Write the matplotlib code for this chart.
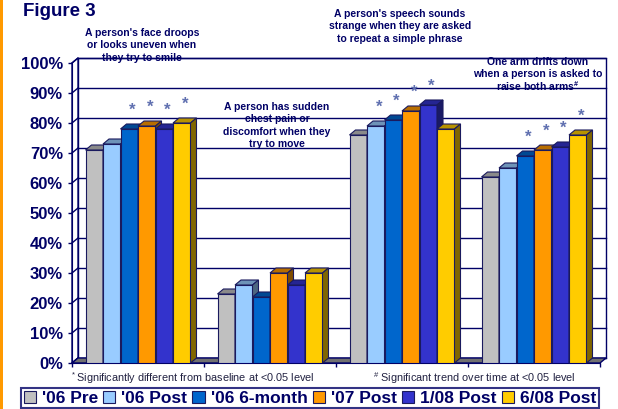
import numpy as np
import matplotlib.pyplot as plt
from matplotlib.patches import Polygon, Rectangle, Patch
import matplotlib.colors as mcolors

plt.rcParams['font.family'] = ['Liberation Sans', 'DejaVu Sans']
plt.rcParams['mathtext.default'] = 'regular'

# Données
categories = ["A person's face droops\nor looks uneven when\nthey try to smile",
              "A person has sudden\nchest pain or\ndiscomfort when they\ntry to move",
              "A person's speech sounds\nstrange when they are asked\nto repeat a simple phrase",
              "One arm drifts down\nwhen a person is asked to\nraise both arms"]
trend = [False, False, False, True]   # # = tendance significative
series = ["'06 Pre", "'06 Post", "'06 6-month", "'07 Post", "1/08 Post", "6/08 Post"]
pre_06 = [71, 23, 76, 62]
post_06 = [73, 26, 79, 65]
month6_06 = [78, 22, 81, 69]
post_07 = [79, 30, 84, 71]
post_108 = [78, 26, 86, 72]
post_608 = [80, 30, 78, 76]
values = [pre_06, post_06, month6_06, post_07, post_108, post_608]
# * = significatif par rapport au baseline
sig = [[0, 0, 0, 0], [0, 0, 1, 0], [1, 0, 1, 1], [1, 0, 1, 1], [1, 0, 1, 1], [1, 0, 0, 1]]
colors = ['#C0C0C0', '#99CCFF', '#0066CC', '#FF9900', '#3333CC', '#FFCC00']
yticks = np.arange(0, 101, 10)

navy = '#000066'
edge = '#1A1A5E'

fig = plt.figure(figsize=(6.18, 4.09), dpi=100)
fig.add_artist(Rectangle((0, 0), 3 / 618, 1, transform=fig.transFigure, color='#FF9900', lw=0))
ax = fig.add_axes([72 / 618, 46 / 409, 528 / 618, 300 / 409])
ax.set_xlim(0, 4)
ax.set_ylim(0, 100)

# profondeur 3D (en unités de données)
DX = 6 / 132
DY = 5 / 3

# murs et sol
ax.add_patch(Polygon([(DX, DY), (4 + DX, DY), (4 + DX, 100 + DY), (DX, 100 + DY)],
                     closed=True, facecolor='white', edgecolor=navy, lw=1, zorder=0, clip_on=False))
ax.add_patch(Polygon([(0, 0), (0, 100), (DX, 100 + DY), (DX, DY)],
                     closed=True, facecolor='white', edgecolor=navy, lw=1, zorder=0, clip_on=False))
for v in yticks:
    ax.plot([DX, 4 + DX], [v + DY, v + DY], color=navy, lw=1, zorder=1, clip_on=False)
    ax.plot([0, DX], [v, v + DY], color=navy, lw=1, zorder=1, clip_on=False)
ax.add_patch(Polygon([(0, 0), (4, 0), (4 + DX, DY), (DX, DY)],
                     closed=True, facecolor='#707070', edgecolor=navy, lw=1, zorder=2, clip_on=False))

# barres
w = 17.5 / 132
z = 3
for g in range(len(categories)):
    for j in range(len(series)):
        v = values[j][g]
        x0 = g + 0.5 + (j - 3) * w
        x1 = x0 + w
        c = np.array(mcolors.to_rgb(colors[j]))
        ax.bar(x0, v, width=w, align='edge', color=colors[j], edgecolor=edge, lw=0.8, zorder=z)
        ax.add_patch(Polygon([(x0, v), (x0 + DX, v + DY), (x1 + DX, v + DY), (x1, v)], closed=True,
                             facecolor=c * 0.72, edgecolor=edge, lw=0.8, zorder=z, clip_on=False))
        ax.add_patch(Polygon([(x1, 0), (x1 + DX, DY), (x1 + DX, v + DY), (x1, v)], closed=True,
                             facecolor=c * 0.5, edgecolor=edge, lw=0.8, zorder=z, clip_on=False))
        if sig[j][g]:
            ax.text(x0 + w / 2 + DX / 2, v + 6.3, '*', ha='center', va='center',
                    fontsize=12, fontweight='bold', color='#6070B0', zorder=20)
        z += 1

# libellés des catégories
label_pos = [(0.53, 111.7), (1.553, 87), (2.485, 118), (3.53, 102)]
fs_lab = 7.5
step_px = 1.3 * fs_lab * 100 / 72      # interligne en pixels
fig.canvas.draw()
renderer = fig.canvas.get_renderer()
for (lx, ly), lab, tr in zip(label_pos, categories, trend):
    kw = dict(ha='center', fontsize=fs_lab, fontweight='bold', color=navy,
              linespacing=1.3, clip_on=False, zorder=30)
    if not tr:
        ax.text(lx, ly, lab, va='top', **kw)
        continue
    # dernière ligne à part, avec un petit # en exposant
    lines = lab.split('\n')
    t = ax.text(lx, ly, '\n'.join(lines[:-1]), va='top', **kw)
    tmp = ax.text(lx, ly, lines[-2], va='top', **kw)
    tmp.remove()
    _, ly_base = ax.transData.inverted().transform((0, 0))
    bb = t.get_window_extent(renderer)
    descent = 0.212 * fs_lab * 100 / 72
    base_px = bb.y0 + descent - step_px
    _, yb = ax.transData.inverted().transform((bb.x0, base_px))
    ax.text(lx, yb, lines[-1] + r'$^{\#}$', va='baseline', **kw)

# axes
for s in ['top', 'right']:
    ax.spines[s].set_visible(False)
ax.spines['left'].set_color(navy)
ax.spines['bottom'].set_color(navy)
ax.spines['left'].set_zorder(50)
ax.set_yticks(yticks)
ax.set_yticklabels([f'{v}%' for v in yticks], fontsize=12, fontweight='bold', color=navy)
ax.set_xticks(np.arange(0, 5))
ax.set_xticklabels([])
ax.tick_params(axis='both', colors=navy, length=3, width=1, direction='out')
ax.tick_params(axis='y', pad=3.5, labelcolor=navy)
ax.set_facecolor('none')

fig.text(23 / 618, 1 - 3 / 409, 'Figure 3', va='top', ha='left', fontsize=13.5,
         fontweight='bold', color=navy)

fig.text(70 / 618, 1 - 378 / 409, '$^*$Significantly different from baseline at <0.05 level',
         fontsize=7.8, color='#202040', va='center')
fig.text(373 / 618, 1 - 378 / 409, '$^{\\#}$ Significant trend over time at <0.05 level',
         fontsize=7.8, color='#202040', va='center')

handles = [Patch(facecolor=c, edgecolor=edge, lw=0.8) for c in colors]
leg = fig.legend(handles, series, ncol=6, loc='upper left', mode='expand',
                 bbox_to_anchor=(21 / 618, 1 - 388 / 409, 578 / 618, 0.0),
                 prop={'size': 12.5, 'weight': 'bold'}, labelcolor=navy,
                 handlelength=0.7, handleheight=0.7, handletextpad=0.35,
                 columnspacing=0.6, borderaxespad=0, borderpad=0.15, fancybox=False)
leg.get_frame().set_edgecolor(navy)
leg.get_frame().set_linewidth(1.5)

fig.savefig('out.png', dpi=100)
